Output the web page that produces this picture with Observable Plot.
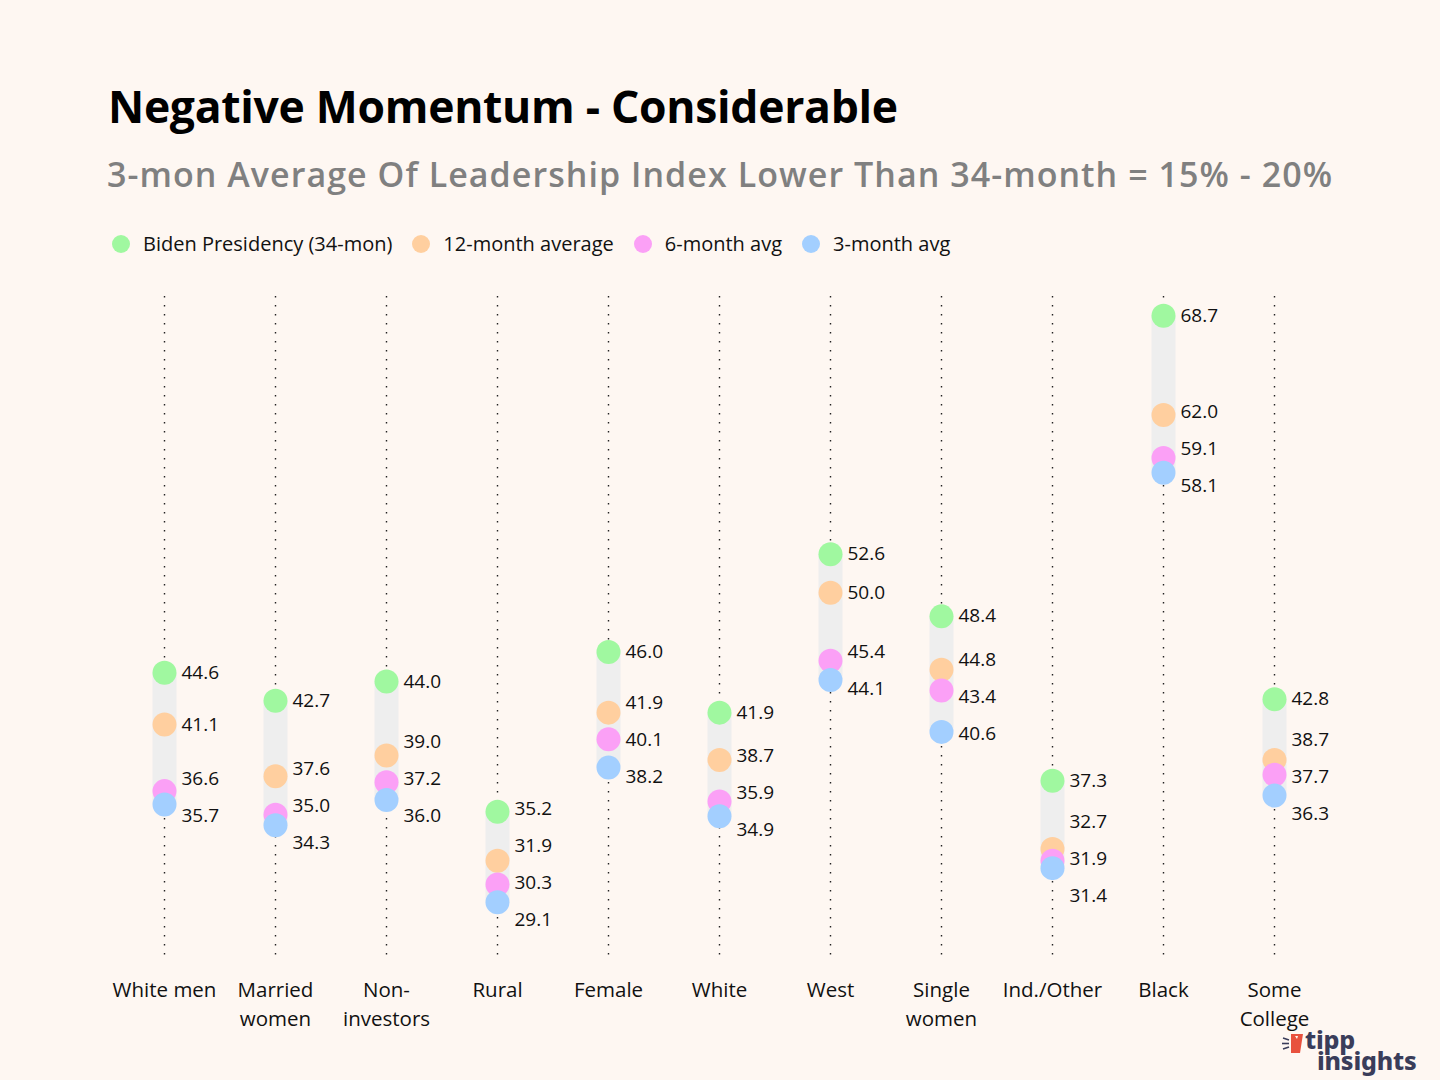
<!DOCTYPE html>
<html>
<head>
<meta charset="utf-8">
<script src="https://cdn.jsdelivr.net/npm/d3@7"></script>
<script src="https://cdn.jsdelivr.net/npm/@observablehq/plot@0.6"></script>
<style>
  html, body { margin: 0; padding: 0; }
  body { width: 1440px; height: 1080px; background: #fef7f2; position: relative; overflow: hidden; font-family: "Open Sans", "Noto Sans", sans-serif; color: #111; }
  #title { position: absolute; left: 108px; top: 84px; font-size: 44.5px; font-weight: 700; line-height: 1; color: #000; white-space: nowrap; letter-spacing: -0.3px; }
  #subtitle { position: absolute; left: 107px; top: 157px; font-size: 34px; font-weight: 600; line-height: 1; color: #808080; white-space: nowrap; letter-spacing: 1.05px; }
  #legend { position: absolute; left: 112px; top: 232px; display: flex; align-items: center; font-size: 20px; line-height: 24px; white-space: nowrap; }
  #legend .item { display: flex; align-items: center; margin-right: 20px; }
  #legend .sw { width: 18px; height: 18px; border-radius: 50%; margin-right: 13px; }
  #chart { position: absolute; left: 0; top: 280px; }
  #logo { position: absolute; left: 1280px; top: 1027px; width: 160px; height: 53px; }
  #logo .tx { position: absolute; left: 37px; top: 2px; font-family: "Noto Sans", sans-serif; font-weight: 800; font-size: 25px; line-height: 21px; color: #3a3d5a; letter-spacing: -0.2px; text-indent: -12px; white-space: nowrap; }
  #logo svg { position: absolute; left: 0; top: 0; }
</style>
</head>
<body>
<div id="title">Negative Momentum - Considerable</div>
<div id="subtitle">3-mon Average Of Leadership Index Lower Than 34-month = 15% - 20%</div>
<div id="legend"></div>
<div id="chart"></div>
<div id="logo">
  <svg width="26" height="30" viewBox="0 0 26 30">
    <path d="M11 7 L23 7 L20 26 L11 26 Z" fill="#e8513e"/>
    <path d="M15 9 L18 9 L17 12 Z" fill="#fef7f2"/>
    <line x1="3" y1="11" x2="9" y2="13" stroke="#3a3d5a" stroke-width="1.6"/>
    <line x1="2" y1="16.5" x2="9" y2="16.5" stroke="#3a3d5a" stroke-width="1.6"/>
    <line x1="3" y1="22" x2="9" y2="20" stroke="#3a3d5a" stroke-width="1.6"/>
  </svg>
  <div class="tx">tipp<br>insights</div>
</div>
<script>
// ---- data ----
const categories = ["White men", "Married women", "Non-investors", "Rural", "Female", "White", "West", "Single women", "Ind./Other", "Black", "Some College"];
const tickLabels = ["White men", "Married\nwomen", "Non-\ninvestors", "Rural", "Female", "White", "West", "Single\nwomen", "Ind./Other", "Black", "Some\nCollege"];
const seriesNames = ["Biden Presidency (34-mon)", "12-month average", "6-month avg", "3-month avg"];
const seriesColors = ["#a0f8a0", "#ffcf9f", "#fba0f6", "#a3cfff"];
const biden34 = [44.6, 42.7, 44.0, 35.2, 46.0, 41.9, 52.6, 48.4, 37.3, 68.7, 42.8];
const avg12 = [41.1, 37.6, 39.0, 31.9, 41.9, 38.7, 50.0, 44.8, 32.7, 62.0, 38.7];
const avg6 = [36.6, 35.0, 37.2, 30.3, 40.1, 35.9, 45.4, 43.4, 31.9, 59.1, 37.7];
const avg3 = [35.7, 34.3, 36.0, 29.1, 38.2, 34.9, 44.1, 40.6, 31.4, 58.1, 36.3];
const yDomain = [25.5, 70];
const labelGap = 2.5; // minimum label separation, in index points

// ---- legend ----
const legend = document.getElementById("legend");
seriesNames.forEach((name, i) => {
  const item = document.createElement("div");
  item.className = "item";
  const sw = document.createElement("div");
  sw.className = "sw";
  sw.style.background = seriesColors[i];
  const tx = document.createElement("span");
  tx.textContent = name;
  item.appendChild(sw);
  item.appendChild(tx);
  legend.appendChild(item);
});

// ---- build long table ----
const seriesValues = [biden34, avg12, avg6, avg3];
const points = [];
seriesValues.forEach((vals, s) => {
  vals.forEach((v, c) => points.push({cat: categories[c], series: seriesNames[s], value: v}));
});
const ranges = categories.map((cat, c) => {
  const vs = seriesValues.map(a => a[c]);
  return {cat, min: d3.min(vs), max: d3.max(vs)};
});

// label de-overlap: cluster labels, center each cluster on its members' mean
categories.forEach(cat => {
  const pts = points.filter(p => p.cat === cat).sort((a, b) => b.value - a.value);
  let clusters = pts.map(p => ({members: [p]}));
  const place = cl => {
    const mean = d3.mean(cl.members, m => m.value);
    const n = cl.members.length;
    cl.top = mean + (n - 1) / 2 * labelGap;
    cl.bottom = mean - (n - 1) / 2 * labelGap;
  };
  clusters.forEach(place);
  let merged = true;
  while (merged) {
    merged = false;
    for (let i = 0; i < clusters.length - 1; i++) {
      const a = clusters[i], b = clusters[i + 1];
      if (a.bottom - b.top < labelGap) {
        const m = {members: a.members.concat(b.members)};
        place(m);
        clusters.splice(i, 2, m);
        merged = true;
        break;
      }
    }
  }
  clusters.forEach(cl => cl.members.forEach((m, k) => { m.labelY = cl.top - k * labelGap; }));
});

const chart = Plot.plot({
  width: 1440,
  height: 760,
  marginTop: 16,
  marginBottom: 85,
  marginLeft: 162,
  marginRight: 164,
  style: {background: "transparent", fontFamily: "Open Sans, Noto Sans, sans-serif", color: "#111"},
  x: {type: "point", domain: categories, padding: 0},
  y: {domain: yDomain, axis: null},
  color: {domain: seriesNames, range: seriesColors},
  marks: [
    Plot.ruleX(categories, {x: d => d, y1: yDomain[1], y2: yDomain[0], stroke: "#222", strokeWidth: 1.4, strokeDasharray: "1.4,7.6"}),
    Plot.ruleX(ranges, {x: "cat", y1: "min", y2: "max", stroke: "#eeeeee", strokeWidth: 24}),
    Plot.dot(points, {x: "cat", y: "value", fill: "series", r: 12}),
    Plot.text(points, {x: "cat", y: "labelY", text: d => d.value.toFixed(1), dx: 17, textAnchor: "start", fontSize: 19, fill: "#111"}),
    Plot.axisX({tickSize: 0, tickPadding: 22, fontSize: 20.5, lineHeight: 1.37, label: null, tickFormat: d => tickLabels[categories.indexOf(d)]})
  ]
});
document.getElementById("chart").appendChild(chart);
</script>
</body>
</html>
